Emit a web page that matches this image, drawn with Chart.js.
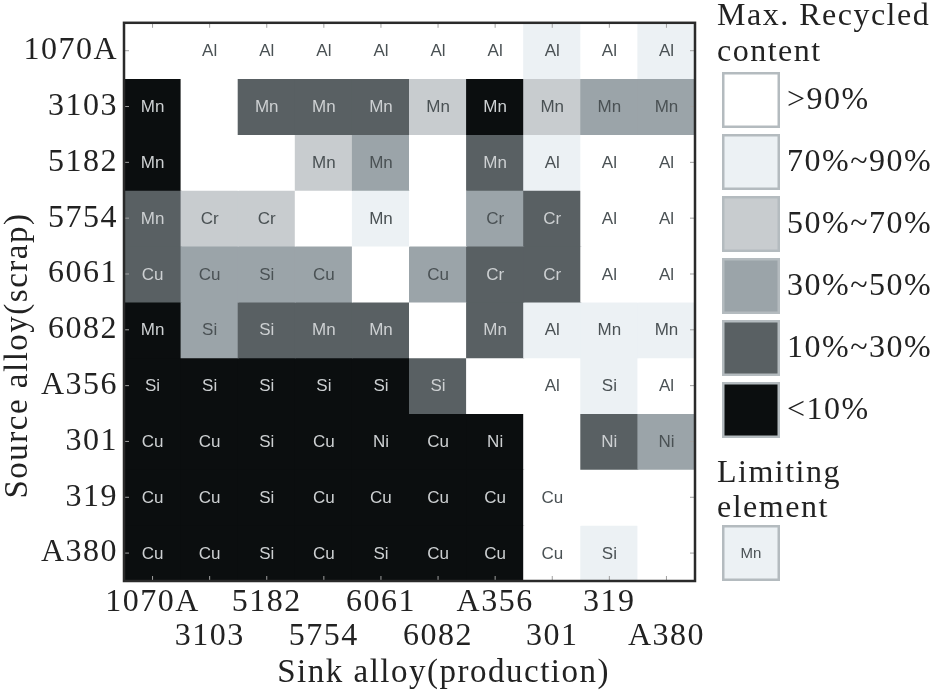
<!DOCTYPE html>
<html><head><meta charset="utf-8">
<script src="https://cdn.jsdelivr.net/npm/chart.js@4.4.1/dist/chart.umd.min.js"></script>
<style>html,body{margin:0;padding:0;background:#fff;}canvas{display:block;}</style>
</head><body>
<canvas id="c" width="934" height="695"></canvas>
<script>
// Categories
const sinkAlloys = ['1070A','3103','5182','5754','6061','6082','A356','301','319','A380'];
const sourceAlloys = ['1070A','3103','5182','5754','6061','6082','A356','301','319','A380'];

// Legend classes (0 = >90% ... 5 = <10%)
const levelLabels = ['>90%','70%~90%','50%~70%','30%~50%','10%~30%','<10%'];
const levelColors = ['#ffffff','#ecf1f4','#c8cccf','#9ba4a9','#596063','#0b0e0f'];

// Max recycled content class per source row (columns = sink alloys)
const level1070A = [0,0,0,0,0,0,0,1,0,1];
const level3103  = [5,0,4,4,4,2,5,2,3,3];
const level5182  = [5,0,0,2,3,0,4,1,0,0];
const level5754  = [4,2,2,0,1,0,3,4,0,0];
const level6061  = [4,3,3,3,0,3,4,4,0,0];
const level6082  = [5,3,4,4,4,0,4,1,1,1];
const levelA356  = [5,5,5,5,5,4,0,0,1,0];
const level301   = [5,5,5,5,5,5,5,0,4,3];
const level319   = [5,5,5,5,5,5,5,0,0,0];
const levelA380  = [5,5,5,5,5,5,5,0,1,0];

// Limiting element per source row
const elem1070A = ['','Al','Al','Al','Al','Al','Al','Al','Al','Al'];
const elem3103  = ['Mn','','Mn','Mn','Mn','Mn','Mn','Mn','Mn','Mn'];
const elem5182  = ['Mn','','','Mn','Mn','','Mn','Al','Al','Al'];
const elem5754  = ['Mn','Cr','Cr','','Mn','','Cr','Cr','Al','Al'];
const elem6061  = ['Cu','Cu','Si','Cu','','Cu','Cr','Cr','Al','Al'];
const elem6082  = ['Mn','Si','Si','Mn','Mn','','Mn','Al','Mn','Mn'];
const elemA356  = ['Si','Si','Si','Si','Si','Si','','Al','Si','Al'];
const elem301   = ['Cu','Cu','Si','Cu','Ni','Cu','Ni','','Ni','Ni'];
const elem319   = ['Cu','Cu','Si','Cu','Cu','Cu','Cu','Cu','',''];
const elemA380  = ['Cu','Cu','Si','Cu','Si','Cu','Cu','Cu','Si',''];

// Each cell spans one unit of the stacked value axis
const cellSpan = [1,1,1,1,1,1,1,1,1,1];

const levelRows = [level1070A,level3103,level5182,level5754,level6061,level6082,levelA356,level301,level319,levelA380];
const elemRows = [elem1070A,elem3103,elem5182,elem5754,elem6061,elem6082,elemA356,elem301,elem319,elemA380];

const serif = "'Liberation Serif','Times New Roman',serif";
const sans = "'Liberation Sans',Arial,sans-serif";
const textColor = '#222';

const datasets = sourceAlloys.map((src, r) => ({
  label: src,
  data: cellSpan.slice(),
  backgroundColor: levelRows[r].map(l => levelColors[l]),
  borderWidth: 0,
  stack: 'cells'
}));

const spacingPlugin = {
  id: 'spacing',
  beforeDraw(c) { c.ctx.letterSpacing = '1.5px'; },
  beforeDatasetsDraw(c) { c.ctx.letterSpacing = '0px'; }
};

const cellPlugin = {
  id: 'cells',
  afterDatasetsDraw(c) {
    const ctx = c.ctx;
    ctx.save();
    ctx.letterSpacing = '0px';
    ctx.font = '17px ' + sans;
    ctx.textAlign = 'center';
    ctx.textBaseline = 'middle';
    sourceAlloys.forEach((src, r) => {
      const meta = c.getDatasetMeta(r);
      meta.data.forEach((el, j) => {
        const lab = elemRows[r][j];
        if (!lab) return;
        const lv = levelRows[r][j];
        ctx.fillStyle = lv >= 4 ? '#cdd0d2' : '#4a5154';
        ctx.fillText(lab, el.x, (el.y + el.base) / 2 + 1);
      });
    });
    // frame
    const a = c.chartArea;
    const xs = c.scales.x, ys = c.scales.y;
    ctx.strokeStyle = '#a0a0a0';
    ctx.lineWidth = 1;
    ctx.beginPath();
    xs.ticks.forEach((t, i) => {
      const px = xs.getPixelForTick(i);
      ctx.moveTo(px, a.top); ctx.lineTo(px, a.top + 5);
      ctx.moveTo(px, a.bottom); ctx.lineTo(px, a.bottom - 5);
    });
    ys.ticks.forEach((t, i) => {
      const py = ys.getPixelForTick(i);
      ctx.moveTo(a.left, py); ctx.lineTo(a.left + 5, py);
      ctx.moveTo(a.right, py); ctx.lineTo(a.right - 5, py);
    });
    ctx.stroke();
    ctx.strokeStyle = '#2a2a2a';
    ctx.lineWidth = 2.5;
    ctx.strokeRect(a.left, a.top, a.right - a.left, a.bottom - a.top);
    ctx.restore();
  }
};

const legendPlugin = {
  id: 'customLegend',
  afterDraw(c) {
    const ctx = c.ctx;
    const a = c.chartArea;
    ctx.save();
    ctx.letterSpacing = '1.5px';
    ctx.fillStyle = textColor;
    ctx.font = '32px ' + serif;
    ctx.textAlign = 'left';
    ctx.textBaseline = 'alphabetic';
    const lx = a.right + 22;
    ctx.fillText('Max. Recycled', lx, 25);
    ctx.fillText('content', lx, 61);
    const bx = a.right + 27, bw = 58, bh = 56, pitch = 62, top0 = 72;
    levelLabels.forEach((lab, i) => {
      const by = top0 + i * pitch;
      ctx.fillStyle = levelColors[i];
      ctx.fillRect(bx, by, bw, bh);
      ctx.strokeStyle = '#b4bbbf';
      ctx.lineWidth = 2.5;
      ctx.strokeRect(bx + 1.25, by + 1.25, bw - 2.5, bh - 2.5);
      ctx.fillStyle = textColor;
      ctx.textBaseline = 'middle';
      ctx.fillText(lab, a.right + 92, by + bh / 2 + 1);
      ctx.textBaseline = 'alphabetic';
    });
    ctx.fillText('Limiting', lx, 482);
    ctx.fillText('element', lx, 517);
    const my = 525;
    ctx.fillStyle = levelColors[1];
    ctx.fillRect(bx, my, bw, bh);
    ctx.strokeStyle = '#b4bbbf';
    ctx.strokeRect(bx + 1.25, my + 1.25, bw - 2.5, bh - 2.5);
    ctx.letterSpacing = '0px';
    ctx.font = '15px ' + sans;
    ctx.fillStyle = '#4a5154';
    ctx.textAlign = 'center';
    ctx.textBaseline = 'middle';
    ctx.fillText('Mn', bx + bw / 2, my + bh / 2 + 1);
    ctx.restore();
  }
};

new Chart(document.getElementById('c'), {
  type: 'bar',
  data: {
    labels: sinkAlloys.map((s, i) => i % 2 === 0 ? [s, ''] : ['', s]),
    datasets
  },
  options: {
    responsive: false,
    animation: false,
    devicePixelRatio: 1,
    layout: { padding: { top: 9, right: 239, left: 0, bottom: 0 } },
    plugins: { legend: { display: false }, tooltip: { enabled: false } },
    datasets: { bar: { barPercentage: 1, categoryPercentage: 1, inflateAmount: 0.5 } },
    scales: {
      x: {
        stacked: true,
        grid: { display: false, drawTicks: false },
        border: { display: false },
        ticks: { autoSkip: false, maxRotation: 0, minRotation: 0, padding: 5, color: textColor,
                 font: { family: serif, size: 32, lineHeight: 1.05 } },
        title: { display: true, text: '       Sink alloy(production)', color: textColor,
                 font: { family: serif, size: 33, lineHeight: 1.05 }, padding: { top: 0, bottom: 4 } },
        afterFit(s) { s.height = 114; }
      },
      y: {
        stacked: true,
        min: 0, max: 10, reverse: true,
        grid: { display: false, drawTicks: false },
        border: { display: false },
        afterBuildTicks(s) { s.ticks = sourceAlloys.map((_, i) => ({ value: i + 0.5 })); },
        ticks: { padding: 6, color: textColor, font: { family: serif, size: 32, lineHeight: 1.05 },
                 callback: (v, i) => sourceAlloys[i] },
        title: { display: true, text: 'Source alloy(scrap)           ', color: textColor,
                 font: { family: serif, size: 33, lineHeight: 1.05 }, padding: { top: 1, bottom: 0 } },
        afterFit(s) { s.width = 124; }
      }
    }
  },
  plugins: [spacingPlugin, cellPlugin, legendPlugin]
});
</script>
</body></html>
